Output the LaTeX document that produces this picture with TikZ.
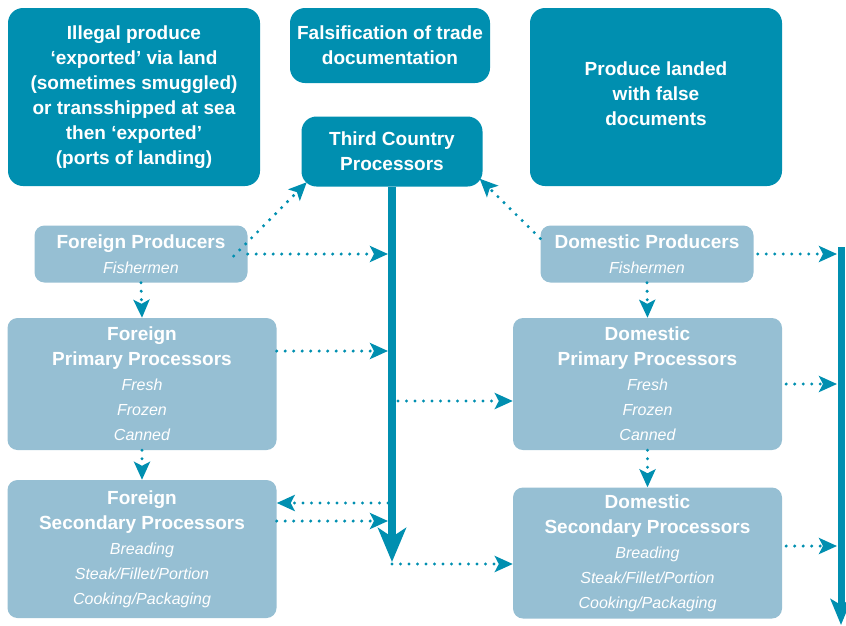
\documentclass[tikz,border=0pt]{standalone}
\usepackage{fontspec}
\setmainfont{Liberation Sans}
\usepackage{tikz}
\usetikzlibrary{arrows.meta}
\definecolor{seablue}{RGB}{0,143,176}
\definecolor{paleblue}{RGB}{150,191,211}
\newcommand\ital[1]{{\normalfont\itshape\fontsize{16}{25}\selectfont #1}}

\begin{document}
\begin{tikzpicture}[x=1pt, y=-1pt,
    dark/.style={fill=seablue, rounded corners=15pt, text=white, align=center,
        font=\bfseries\fontsize{19}{25}\selectfont},
    pale/.style={fill=paleblue, rounded corners=10pt, text=white, align=center,
        font=\bfseries\fontsize{19}{25}\selectfont},
    dots/.style={seablue, line width=3.4pt, line cap=round, dash pattern=on 0pt off 8.5pt,
        -{Stealth[length=18pt,width=16pt,inset=4pt]}},
    trunk/.style={seablue, line width=7.5pt, -{Stealth[length=34pt,width=28pt,inset=9pt]}},
    rail/.style={seablue, line width=7pt, -{Stealth[length=26pt,width=21pt,inset=6pt]}}]
    \useasboundingbox (0,0) rectangle (846,625);

    \node[dark, minimum width=252pt, minimum height=178pt] (illegal) at (134,97)
        {Illegal produce\\‘exported’ via land\\(sometimes smuggled)\\or transshipped at sea\\then ‘exported’\\(ports of landing)};
    \node[dark, minimum width=200pt, minimum height=75pt] (falsif) at (390,45.5)
        {Falsification of trade\\documentation};
    \node[dark, minimum width=252pt, minimum height=178pt, text depth=6pt] (landed) at (656,97)
        {Produce landed\\with false\\documents};
    \node[dark, minimum width=181pt, minimum height=70pt] (third) at (392,151.5)
        {Third Country\\Processors};

    \node[pale, minimum width=213pt, minimum height=57pt] (fprod) at (141,254)
        {Foreign Producers\\\ital{Fishermen}};
    \node[pale, minimum width=269pt, minimum height=132pt] (fprim) at (142,384)
        {Foreign\\Primary Processors\\\ital{Fresh}\\\ital{Frozen}\\\ital{Canned}};
    \node[pale, minimum width=269pt, minimum height=138pt] (fsec) at (142,549)
        {Foreign\\Secondary Processors\\\ital{Breading}\\\ital{Steak/Fillet/Portion}\\\ital{Cooking/Packaging}};
    \node[pale, minimum width=213pt, minimum height=57pt] (dprod) at (647,254)
        {Domestic Producers\\\ital{Fishermen}};
    \node[pale, minimum width=269pt, minimum height=132pt] (dprim) at (647.5,384)
        {Domestic\\Primary Processors\\\ital{Fresh}\\\ital{Frozen}\\\ital{Canned}};
    \node[pale, minimum width=269pt, minimum height=131pt] (dsec) at (647.5,553)
        {Domestic\\Secondary Processors\\\ital{Breading}\\\ital{Steak/Fillet/Portion}\\\ital{Cooking/Packaging}};

    \coordinate (trunkend) at (392,562);
    \coordinate (trunkL) at (388,0);
    \coordinate (trunkR) at (398,0);
    \coordinate (railtop) at (841,247);
    \coordinate (railend) at (841,625);
    \coordinate (railL) at (837,0);

    \coordinate (fprimout) at ([yshift=33pt]fprim.east);
    \coordinate (fsecin) at ([yshift=46pt]fsec.east);
    \coordinate (fsecout) at ([yshift=28pt]fsec.east);
    \coordinate (dprimin) at ([yshift=-17pt]dprim.west);
    \coordinate (dsecin) at ([yshift=-11pt]dsec.west);
    \coordinate (dsecout) at ([yshift=7pt]dsec.east);

    \draw[trunk] (third.south) -- (trunkend);
    \draw[rail] (railtop) -- (railend);

    \draw[dots] ([xshift=-14pt,yshift=-2pt]fprod.east) -- ([xshift=5.5pt,yshift=4.5pt]third.south west);
    \draw[dots] ([yshift=15.5pt]dprod.west) -- ([xshift=-3pt,yshift=8pt]third.south east);
    \draw[dots] (fprod.east) -- (fprod.east -| trunkL);
    \draw[dots] (fprimout) -- (fprimout -| trunkL);
    \draw[dots] (dprimin -| trunkR) -- (dprimin);
    \draw[dots] (fsecin -| trunkL) -- (fsecin);
    \draw[dots] (fsecout) -- (fsecout -| trunkL);
    \draw[dots] (dsecin -| trunkend) -- (dsecin);
    \draw[dots] ([xshift=4pt]dprod.east) -- (dprod.east -| railL);
    \draw[dots] ([xshift=4pt]dprim.east) -- (dprim.east -| railL);
    \draw[dots] ([xshift=4pt]dsecout) -- (dsecout -| railL);

    \draw[dots] (fprod.south) -- (fprim.north);
    \draw[dots] (fprim.south) -- (fsec.north);
    \draw[dots] (dprod.south) -- (dprim.north);
    \draw[dots] (dprim.south) -- (dsec.north);
\end{tikzpicture}
\end{document}
